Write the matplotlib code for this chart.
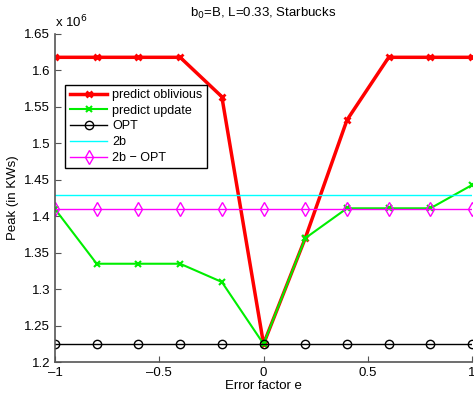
import numpy as np
import matplotlib.pyplot as plt
from matplotlib.ticker import FuncFormatter

plt.rcParams['font.family'] = ['Liberation Sans', 'DejaVu Sans']

e = [-1, -0.8, -0.6, -0.4, -0.2, 0, 0.2, 0.4, 0.6, 0.8, 1]
oblivious = [1.618, 1.618, 1.618, 1.618, 1.564, 1.225, 1.37, 1.532, 1.618, 1.618, 1.618]
update = [1.41, 1.335, 1.335, 1.335, 1.31, 1.225, 1.37, 1.411, 1.411, 1.411, 1.443]
opt = [1.225] * 11
twob = [1.429] * 11
twob_opt = [1.41] * 11

fig = plt.figure(figsize=(4.74, 3.95), dpi=100)
ax = fig.add_axes([0.116, 0.083, 0.88, 0.831])

ax.plot(e, oblivious, color='red', lw=2.5, marker='x', ms=5, mew=2, label='predict oblivious')
ax.plot(e, update, color='#00ee00', lw=1.5, marker='x', ms=5, mew=1.5, label='predict update')
ax.plot(e, opt, color='black', lw=1, marker='o', ms=6, mfc='none', label='OPT')
ax.plot(e, twob, color='cyan', lw=1, label='2b')
ax.plot(e, twob_opt, color='magenta', lw=1, marker='d', ms=7, mfc='none', label='2b \u2212 OPT')

ax.set_xlim(-1, 1)
ax.set_ylim(1.2, 1.65)
ax.set_xticks([-1, -0.5, 0, 0.5, 1])
ax.set_yticks(np.arange(1.2, 1.66, 0.05))
fmt = FuncFormatter(lambda v, p: ('%g' % round(v, 3)).replace('-', '\u2013'))
ax.xaxis.set_major_formatter(fmt)
ax.yaxis.set_major_formatter(fmt)
ax.tick_params(direction='in', labelsize=9.5, length=4, color='#555555')
for s in ['top', 'right']:
    ax.spines[s].set_visible(False)
for s in ['left', 'bottom']:
    ax.spines[s].set_color('#555555')
    ax.spines[s].set_linewidth(1.2)

ax.set_xlabel('Error factor e', fontsize=9.5, labelpad=1)
ax.set_ylabel('Peak (in KWs)', fontsize=9.5)
ax.set_title('b$_0$=B, L=0.33, Starbucks', fontsize=9.5, pad=12)
ax.text(0.0, 1.012, 'x 10$^6$', transform=ax.transAxes, fontsize=9.5, va='bottom')

leg = ax.legend(loc='upper left', bbox_to_anchor=(0.01, 0.865), fontsize=9,
                fancybox=False, edgecolor='black', framealpha=1,
                handlelength=3.0, borderpad=0.35, labelspacing=0.3, handletextpad=0.4)
leg.get_frame().set_linewidth(1)

fig.savefig('out.png', dpi=100)
